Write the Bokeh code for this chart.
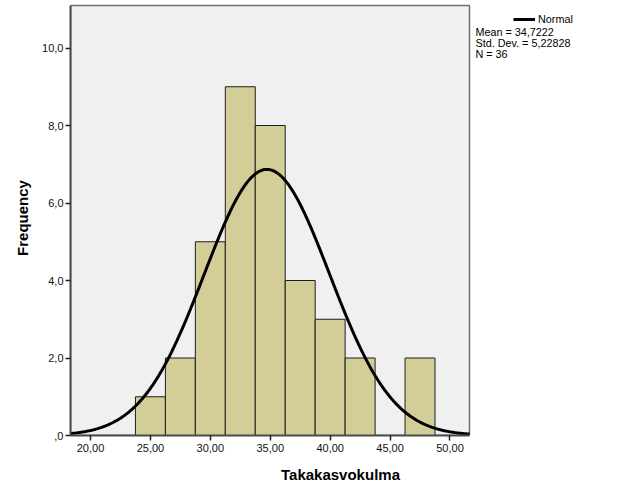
import numpy as np
from bokeh.plotting import figure
from bokeh.models import (FixedTicker, CustomJSTickFormatter, Label, Legend,
                          LegendItem, ColumnDataSource)
from bokeh.embed import file_html
from bokeh.resources import INLINE

# ---- data ----
bin_left = [23.75, 26.25, 28.75, 31.25, 33.75, 36.25, 38.75, 41.25, 43.75, 46.25]
bin_right = [26.25, 28.75, 31.25, 33.75, 36.25, 38.75, 41.25, 43.75, 46.25, 48.75]
frequency = [1, 2, 5, 9, 8, 4, 3, 2, 0, 2]
mean = 34.7222
std_dev = 5.22828
n_obs = 36
bin_width = 2.5
x_ticks = [20, 25, 30, 35, 40, 45, 50]
y_ticks = [0, 2, 4, 6, 8, 10]
x_title = "Takakasvokulma"
y_title = "Frequency"
legend_label = "Normal"
stats_lines = ["Mean = 34,7222", "Std. Dev. = 5,22828", "N = 36"]

# plot box (data extent) and a wider frame so the legend area is not clipped
box_x0, box_x1 = 18.331, 51.628
box_y0, box_y1 = 0, 11.097
frame_x1 = 63.395
frame_y1 = 11.226

FONT = "Liberation Sans"

p = figure(width=610, height=485, x_range=(box_x0, frame_x1), y_range=(box_y0, frame_y1),
           output_backend="svg", toolbar_location=None,
           min_border_left=70, min_border_right=0, min_border_top=0,
           min_border_bottom=50)
p.background_fill_color = "white"
p.border_fill_color = "white"
p.outline_line_color = None
p.xgrid.visible = False
p.ygrid.visible = False

# grey plot box
p.quad(left=[box_x0], right=[box_x1], bottom=[box_y0], top=[box_y1],
       fill_color="#F0F0F0", line_color="#6E6E6E", line_width=1.5)

# bars (skip empty bins)
src = ColumnDataSource(dict(
    left=[l for l, f in zip(bin_left, frequency) if f > 0],
    right=[r for r, f in zip(bin_right, frequency) if f > 0],
    top=[f for f in frequency if f > 0],
))
p.quad(left="left", right="right", top="top", bottom=0, source=src,
       fill_color="#D3CE97", line_color="#1E1E1E", line_width=1)

# normal curve
xs = np.linspace(box_x0, box_x1, 400)
ys = n_obs * bin_width * np.exp(-0.5 * ((xs - mean) / std_dev) ** 2) / (std_dev * np.sqrt(2 * np.pi))
curve = p.line(xs, ys, line_color="black", line_width=3)

# axes
for ax in (p.xaxis[0], p.yaxis[0]):
    ax.axis_line_color = "#4A4A4A"
    ax.axis_line_width = 2
    ax.major_tick_line_color = "#222222"
    ax.major_tick_line_width = 1.5
    ax.major_tick_out = 5
    ax.major_tick_in = 0
    ax.minor_tick_line_color = None
    ax.major_label_text_font = FONT
    ax.major_label_text_font_size = "11px"
    ax.major_label_text_color = "#111111"
    ax.axis_label_text_font = FONT
    ax.axis_label_text_font_style = "bold"
    ax.axis_label_text_font_size = "15px"
    ax.axis_label_text_color = "black"

p.xaxis.bounds = (box_x0, box_x1)
p.yaxis.bounds = (box_y0, box_y1)
p.xaxis.ticker = FixedTicker(ticks=x_ticks)
p.yaxis.ticker = FixedTicker(ticks=y_ticks)
p.xaxis.formatter = CustomJSTickFormatter(code="return tick.toFixed(2).replace('.', ',');")
p.yaxis.formatter = CustomJSTickFormatter(
    code="return tick == 0 ? ',0' : tick.toFixed(1).replace('.', ',');")
p.xaxis.axis_label = x_title
p.yaxis.axis_label = y_title
p.xaxis.major_label_standoff = 3
p.yaxis.major_label_standoff = 2
p.xaxis.axis_label_standoff = 11
p.yaxis.axis_label_standoff = 8

# legend
legend = Legend(items=[LegendItem(label=legend_label, renderers=[curve])],
                location=(443, 410), padding=0, margin=0, spacing=0,
                glyph_width=22, glyph_height=10, label_height=10, label_standoff=3,
                label_text_font=FONT, label_text_font_size="10.8px",
                label_text_color="black",
                background_fill_alpha=0, border_line_alpha=0)
p.add_layout(legend)

for i, t in enumerate(stats_lines):
    p.add_layout(Label(x=405, y=403.3 - i * 10.7, x_units="screen", y_units="screen",
                       text=t, text_font=FONT, text_font_size="10.8px",
                       text_baseline="middle", text_color="black"))

open("out.html", "w").write(file_html(p, INLINE))
